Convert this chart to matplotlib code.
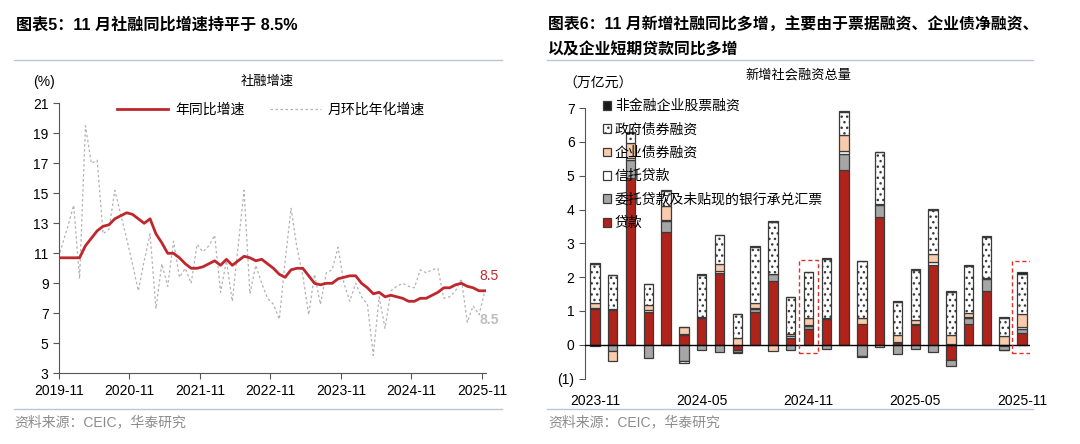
import numpy as np
import matplotlib
matplotlib.use("Agg")
import matplotlib.pyplot as plt
from matplotlib.lines import Line2D
from matplotlib.patches import Rectangle
from matplotlib.ticker import FuncFormatter

plt.rcParams["font.family"] = ["Liberation Sans", "Noto Sans CJK SC"]
plt.rcParams["hatch.linewidth"] = 1.0

# ---- chart 5: TSF growth, 2019-10 .. 2025-11 ----
yoy = [10.7, 10.7, 10.7, 10.7, 10.7, 11.5, 12.0, 12.5, 12.8, 12.9, 13.3, 13.5,
       13.7, 13.6, 13.3, 13.0, 13.3, 12.3, 11.7, 11.0, 11.0, 10.7, 10.3, 10.0,
       10.0, 10.1, 10.3, 10.5, 10.2, 10.6, 10.2, 10.5, 10.8, 10.7, 10.5, 10.6,
       10.3, 10.0, 9.6, 9.4, 9.9, 10.0, 10.0, 9.5, 9.0, 8.9, 9.0, 9.0,
       9.3, 9.4, 9.5, 9.5, 9.0, 8.7, 8.3, 8.4, 8.1, 8.2, 8.1, 8.0,
       7.8, 7.8, 8.0, 8.0, 8.2, 8.4, 8.7, 8.7, 8.9, 9.0, 8.8, 8.7,
       8.5, 8.5]
mom_ann = [10.1, 11.5, 12.8, 14.2, 9.3, 19.5, 17.0, 17.2, 12.3, 12.6, 15.2, 13.6,
           12.0, 10.3, 8.5, 10.5, 12.3, 7.3, 10.3, 8.8, 11.8, 9.4, 10.0, 9.0,
           11.6, 11.1, 11.5, 12.2, 8.4, 10.5, 7.8, 11.5, 15.2, 8.3, 10.2, 9.0,
           8.0, 7.6, 6.6, 10.5, 14.0, 11.4, 9.5, 6.9, 9.6, 7.6, 9.7, 9.9,
           11.4, 9.0, 7.8, 9.0, 8.1, 7.6, 4.2, 8.1, 6.0, 8.5, 8.8, 9.0,
           8.8, 8.7, 9.9, 9.7, 9.9, 10.0, 8.0, 8.1, 8.5, 9.3, 6.4, 7.5,
           6.9, 8.5]
left_ticks = ["2019-11", "2020-11", "2021-11", "2022-11", "2023-11", "2024-11", "2025-11"]

# ---- chart 6: new TSF by component, 2023-11 .. 2025-11 (trn yuan) ----
months6 = ["2023-11", "2023-12", "2024-01", "2024-02", "2024-03", "2024-04", "2024-05",
           "2024-06", "2024-07", "2024-08", "2024-09", "2024-10", "2024-11", "2024-12",
           "2025-01", "2025-02", "2025-03", "2025-04", "2025-05", "2025-06", "2025-07",
           "2025-08", "2025-09", "2025-10", "2025-11"]
loans = [1.06, 1.03, 4.93, 0.97, 3.33, 0.30, 0.78, 2.12, -0.17, 0.97, 1.90, 0.20, 0.47,
         0.76, 5.18, 0.62, 3.78, 0.04, 0.59, 2.37, -0.44, 0.60, 1.58, -0.03, 0.36]
entrusted = [-0.04, -0.20, 0.55, -0.39, 0.32, -0.49, -0.15, -0.22, -0.05, 0.08, 0.18, -0.17, 0.08,
             -0.13, 0.47, -0.33, 0.36, -0.28, -0.13, -0.22, -0.18, 0.20, 0.36, -0.12, 0.11]
trust = [0.03, 0.02, 0.04, 0.05, 0.04, 0.01, 0.04, 0.05, -0.03, 0.03, 0.02, 0.05, 0.02,
         0.02, 0.07, -0.03, 0.02, 0.03, 0.02, 0.08, 0.02, 0.03, 0.02, -0.02, 0.05]
corp_bond = [0.13, -0.27, 0.45, 0.15, 0.42, 0.20, 0.00, 0.21, 0.20, 0.14, -0.20, 0.07, 0.23,
             0.00, 0.48, 0.16, -0.08, 0.21, 0.13, 0.23, 0.27, 0.12, 0.02, 0.25, 0.40]
gov_bond = [1.18, 1.00, 0.31, 0.63, 0.44, -0.06, 1.25, 0.87, 0.70, 1.67, 1.53, 1.08, 1.34,
            1.77, 0.68, 1.69, 1.53, 0.99, 1.48, 1.31, 1.27, 1.39, 1.22, 0.54, 1.18]
stock = [0.03, 0.01, 0.03, 0.01, 0.03, 0.01, 0.02, 0.01, 0.01, 0.02, 0.02, 0.02, 0.01,
         0.03, 0.04, 0.01, 0.02, 0.03, 0.03, 0.03, 0.03, 0.03, 0.02, 0.03, 0.04]
series_labels = ["贷款", "委托贷款及未贴现的银行承兑汇票", "信托贷款",
                 "企业债券融资", "政府债券融资", "非金融企业股票融资"]
highlight = ["2024-11", "2025-11"]

W, H = 1080, 444
fig = plt.figure(figsize=(W / 100, H / 100), dpi=100)


def fx(x):
    return x / W


def fy(y):
    return 1 - y / H


sep_color = "#b9c7d9"
for x0, x1 in [(14, 502), (547, 1033)]:
    fig.add_artist(Line2D([fx(x0), fx(x1)], [fy(60), fy(60)], color=sep_color, lw=1))
    fig.add_artist(Line2D([fx(x0), fx(x1)], [fy(409), fy(409)], color=sep_color, lw=1))

fig.text(fx(16), fy(25), "图表5：11 月社融同比增速持平于 8.5%", fontsize=11.6, weight="bold", va="center")
fig.text(fx(548), fy(25), "图表6：11 月新增社融同比多增，主要由于票据融资、企业债净融资、",
         fontsize=11.4, weight="bold", va="center")
fig.text(fx(548), fy(49), "以及企业短期贷款同比多增", fontsize=11.4, weight="bold", va="center")
for x0 in (14, 548):
    fig.text(fx(x0), fy(422), "资料来源：CEIC，华泰研究", fontsize=10, color="#8c8c8c", va="center")

# ---------------- left chart ----------------
red = "#c0272d"
grey = "#b2b2b2"
ax1 = fig.add_axes([fx(59), fy(373.3), fx(426.5), 270 / H])
xs = np.arange(len(yoy)) - 0.5
ax1.plot(xs, mom_ann, color=grey, lw=0.9, ls=(0, (2, 2)), label="月环比年化增速", zorder=2)
ax1.plot(xs, yoy, color=red, lw=2.0, label="年同比增速", zorder=3)
ax1.set_xlim(0, 72.6)
ax1.set_ylim(3, 21)
ax1.set_yticks(np.arange(3, 22, 2))
ax1.set_xticks(np.arange(0, 73, 12))
ax1.set_xticklabels(left_ticks)
for s in ("top", "right"):
    ax1.spines[s].set_visible(False)
for s in ("left", "bottom"):
    ax1.spines[s].set_color("#555555")
ax1.tick_params(axis="both", colors="#555555", labelcolor="black", labelsize=10, length=4)
ax1.annotate(f"{yoy[-1]:.1f}", (xs[-1], yoy[-1]), xytext=(3, 11), textcoords="offset points",
             ha="center", va="center", color=red, fontsize=10)
ax1.annotate(f"{mom_ann[-1]:.1f}", (xs[-1], mom_ann[-1]), xytext=(3, -21), textcoords="offset points",
             ha="center", va="center", color="#bfbfbf", fontsize=10, weight="bold")
h, l = ax1.get_legend_handles_labels()
ax1.legend(h[::-1], l[::-1], loc="center left", bbox_to_anchor=(fx(117), fy(110)),
           bbox_transform=fig.transFigure, ncol=2, frameon=False, borderpad=0, borderaxespad=0,
           handlelength=3.7, handletextpad=0.5, columnspacing=1.8, fontsize=10)
fig.text(fx(44), fy(82), "(%)", fontsize=10, ha="center", va="center")
fig.text(fx(267), fy(82), "社融增速", fontsize=9.5, ha="center", va="center")

# ---------------- right chart ----------------
ax2 = fig.add_axes([fx(585), fy(378.5), fx(445), 270.3 / H])
x6 = np.arange(len(months6))
styles = [
    dict(facecolor="#b0231a"),
    dict(facecolor="#a6a6a6"),
    dict(facecolor="white"),
    dict(facecolor="#f8cbad"),
    dict(facecolor="white", hatch="..."),
    dict(facecolor="#1a1a1a"),
]
pos = np.zeros(len(x6))
neg = np.zeros(len(x6))
handles = []
for vals, st, lab in zip([loans, entrusted, trust, corp_bond, gov_bond, stock], styles, series_labels):
    v = np.array(vals)
    bottom = np.where(v >= 0, pos, neg)
    b = ax2.bar(x6, v, bottom=bottom, width=0.53, edgecolor="#3a3a3a", linewidth=0.9,
                label=lab, zorder=2, **st)
    handles.append(b)
    pos += np.clip(v, 0, None)
    neg += np.clip(v, None, 0)

ax2.axhline(0, color="black", lw=1.0, zorder=3)
for m in highlight:
    i = months6.index(m)
    ax2.add_patch(Rectangle((i - 0.55, neg[i] - 0.25), 1.1, pos[i] - neg[i] + 0.6, fill=False,
                            edgecolor="#e0302a", lw=1.0, ls=(0, (3, 2)), zorder=4))
ax2.set_xlim(-0.56, 24.45)
ax2.set_ylim(-1, 7)
ax2.set_yticks(np.arange(-1, 8, 1))
ax2.yaxis.set_major_formatter(FuncFormatter(lambda v, p: f"({abs(v):.0f})" if v < 0 else f"{v:.0f}"))
ax2.set_xticks([0, 6, 12, 18, 24])
ax2.set_xticklabels([months6[i] for i in [0, 6, 12, 18, 24]])
for s in ("top", "right", "bottom"):
    ax2.spines[s].set_visible(False)
ax2.spines["left"].set_color("#555555")
ax2.tick_params(axis="y", colors="#555555", labelcolor="black", labelsize=10, length=4)
ax2.tick_params(axis="x", length=0, labelsize=10, pad=11)
ax2.legend(handles[::-1], series_labels[::-1], loc="upper left", bbox_to_anchor=(fx(603), fy(99)),
           bbox_transform=fig.transFigure, frameon=False, borderpad=0, borderaxespad=0,
           handlelength=0.6, handleheight=0.6, handletextpad=0.25, labelspacing=0.68, fontsize=10)
fig.text(fx(563), fy(84), "（万亿元）", fontsize=10, va="center")
fig.text(fx(798), fy(75), "新增社会融资总量", fontsize=9.5, ha="center", va="center")

fig.savefig("out.png", dpi=100)
